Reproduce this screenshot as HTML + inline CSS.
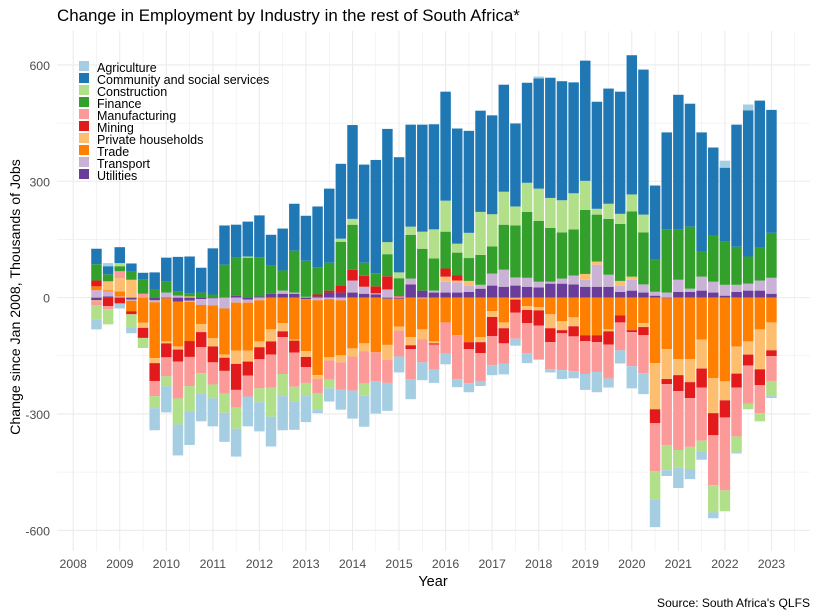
<!DOCTYPE html>
<html>
<head>
<meta charset="utf-8">
<title>Change in Employment by Industry</title>
<style>
html,body{margin:0;padding:0;background:#fff;width:818px;height:616px;overflow:hidden}
svg{display:block}
text{font-family:"Liberation Sans",Arial,sans-serif}
</style>
</head>
<body>
<svg id="chart" width="818" height="616" viewBox="0 0 818 616" xmlns="http://www.w3.org/2000/svg"></svg>
<script>
const quarters = [2008.5,2008.75,2009,2009.25,2009.5,2009.75,2010,2010.25,2010.5,2010.75,2011,2011.25,2011.5,2011.75,2012,2012.25,2012.5,2012.75,2013,2013.25,2013.5,2013.75,2014,2014.25,2014.5,2014.75,2015,2015.25,2015.5,2015.75,2016,2016.25,2016.5,2016.75,2017,2017.25,2017.5,2017.75,2018,2018.25,2018.5,2018.75,2019,2019.25,2019.5,2019.75,2020,2020.25,2020.5,2020.75,2021,2021.25,2021.5,2021.75,2022,2022.25,2022.5,2022.75,2023];
const seriesNames = ["Agriculture","Community and social services","Construction","Finance","Manufacturing","Mining","Private households","Trade","Transport","Utilities"];
const agriculture = [-26,8,-13,-15,0,-57,-67,-80,-85,-72,-72,-75,-72,-77,-75,-77,-88,-72,-67,-8,-34,-52,-72,-80,-83,-72,-41,-52,-46,-34,-28,-21,-23,-13,-26,-28,-18,-26,5,-8,-23,-18,-41,-52,-23,-34,-57,-54,-72,-15,-52,-26,-20,-15,18,-3,15,0,-5];
const community = [40,21,41,21,18,44,62,90,95,64,119,101,85,90,108,80,108,121,116,157,191,193,242,253,292,292,297,263,276,271,281,297,263,261,255,276,214,258,284,310,307,286,310,276,297,315,359,374,191,250,348,317,307,227,191,315,377,379,317];
const construction = [-36,-39,8,-34,-26,-31,-26,-67,-67,-52,-36,-49,-54,3,-36,-75,-57,-39,-34,-44,-23,8,15,-31,0,31,15,21,44,75,80,23,65,111,83,85,49,75,83,77,83,93,75,15,39,26,44,46,-72,-65,-46,-57,-29,-70,-54,-41,-15,-21,-39];
const finance = [42,18,13,21,36,21,28,10,8,13,8,85,98,103,101,72,52,108,93,70,72,113,116,34,34,57,44,113,108,83,95,59,59,77,70,116,134,170,157,139,119,119,165,121,144,147,168,134,83,163,129,160,65,119,111,98,70,85,116];
const manufacturing = [-10,-8,18,0,10,-39,-49,-95,-75,-67,-57,-59,-46,-54,-75,-85,-95,-88,-41,-36,-49,-70,-88,-83,-75,-59,-67,-77,-59,-65,-80,-113,-88,-72,-75,-52,-67,-77,-88,-70,-95,-90,-85,-77,-88,-72,-88,-98,-124,-157,-152,-126,-137,-129,-188,-126,-98,-72,-64];
const mining = [15,-22,-15,-8,-26,-46,-36,-31,-41,-39,-41,-34,-67,-36,-31,-34,-15,-31,-26,5,5,18,28,28,18,34,3,-10,0,-3,21,13,-18,-28,-49,-39,-34,-34,-39,-36,-8,-26,-15,-18,-34,-18,-5,-21,-36,-13,-41,-41,-49,-57,-44,-36,-28,-41,-15];
const privateHouseholds = [-3,23,34,46,-13,-13,-5,-8,3,-21,-21,-8,-34,-28,-15,-31,-21,-3,-15,-10,-8,-18,-21,-21,0,-39,-10,-21,-26,-5,13,5,13,-13,-15,-15,-3,-10,-8,-36,-23,-23,15,8,-5,13,8,-10,-119,-77,-41,-59,-75,-90,-49,-70,-34,-103,-72];
const trade = [10,3,13,-27,-65,-144,-111,-116,-101,-49,-85,-119,-124,-124,-106,-82,-66,-108,-134,-193,-150,-142,-131,-118,-141,-119,-72,-102,-80,-113,-64,-97,-115,-102,-35,-64,-2,-22,-25,-43,-61,-51,-97,-97,-82,-46,-84,-66,-169,-131,-159,-159,-108,-208,-216,-126,-113,-82,-64];
const transport = [19,13,3,-3,0,-5,13,5,-3,-15,-18,-28,-13,-8,-7,0,8,3,2,-7,-4,-7,31,18,3,21,3,15,-2,5,28,26,15,10,31,44,21,23,15,5,13,23,18,57,31,15,28,21,10,13,31,8,36,28,28,18,18,26,41];
const utilities = [-7,3,0,-5,0,-7,-2,-10,-8,-4,-2,0,5,-5,3,10,10,10,-4,3,13,13,13,10,8,-3,-3,34,18,13,13,13,15,23,31,28,31,28,26,36,36,34,28,28,28,15,18,13,5,-2,15,15,18,13,5,15,18,18,10];
const yTickValues = [-600,-300,0,300,600];
const yMinorValues = [-450,-150,150,450];
const xTickYears = [2008,2009,2010,2011,2012,2013,2014,2015,2016,2017,2018,2019,2020,2021,2022,2023];
const seriesColors = ["#A6CEE3","#1F78B4","#B2DF8A","#33A02C","#FB9A99","#E31A1C","#FDBF6F","#FF7F00","#CAB2D6","#6A3D9A"];
const seriesValues = [agriculture,community,construction,finance,manufacturing,mining,privateHouseholds,trade,transport,utilities];

const svgNS = "http://www.w3.org/2000/svg";
const svg = document.getElementById("chart");
const panel = {left:57, right:810, top:31, bottom:551};
function xScale(year){ return 73.2 + (year - 2008) * 46.55; }
function yScale(value){ return 297.6 - value * 0.3878; }
const barWidth = xScale(0.225) - xScale(0);

function make(tag, attrs, parent){
  const el = document.createElementNS(svgNS, tag);
  for (const k in attrs) el.setAttribute(k, attrs[k]);
  (parent || svg).appendChild(el);
  return el;
}
function slug(s){ return s.toLowerCase().replace(/[^a-z0-9]+/g, "-"); }

// gridlines
yMinorValues.forEach(function(v){
  const l = make("line",{x1:panel.left,x2:panel.right,y1:yScale(v),y2:yScale(v),stroke:"#EBEBEB","stroke-width":0.55});
  
  
});
xTickYears.forEach(function(y){
  const l = make("line",{x1:xScale(y+0.5),x2:xScale(y+0.5),y1:panel.top,y2:panel.bottom,stroke:"#EBEBEB","stroke-width":0.55});
  
  
});
yTickValues.forEach(function(v){
  const l = make("line",{x1:panel.left,x2:panel.right,y1:yScale(v),y2:yScale(v),stroke:"#EBEBEB","stroke-width":1.07});
  
  
});
xTickYears.forEach(function(y){
  const l = make("line",{x1:xScale(y),x2:xScale(y),y1:panel.top,y2:panel.bottom,stroke:"#EBEBEB","stroke-width":1.07});
  
  
});

// stacked bars (Utilities nearest zero, Agriculture farthest)
quarters.forEach(function(q, i){
  let pos = 0, neg = 0;
  for (let s = seriesValues.length - 1; s >= 0; s--){
    const v = seriesValues[s][i];
    if (!v) continue;
    const start = v > 0 ? pos : neg;
    const end = start + v;
    if (v > 0) pos = end; else neg = end;
    const r = make("rect",{
      x: xScale(q) - barWidth / 2,
      y: Math.min(yScale(start), yScale(end)),
      width: barWidth,
      height: Math.abs(yScale(end) - yScale(start)),
      fill: seriesColors[s]
    });
    
    
  }
});

// y tick labels
yTickValues.forEach(function(v){
  const t = make("text",{x:50,y:yScale(v)+5,"text-anchor":"end","font-size":12.3,fill:"#4D4D4D"});
  t.textContent = String(v);
  
  
});
// x tick labels
xTickYears.forEach(function(y){
  const t = make("text",{x:xScale(y),y:568,"text-anchor":"middle","font-size":12.3,fill:"#4D4D4D"});
  t.textContent = String(y);
  
  
});

// legend
seriesNames.forEach(function(name, i){
  const k = make("rect",{x:79,y:61+i*12,width:10,height:10,fill:seriesColors[i]});
  
  
  const t = make("text",{x:97,y:72+i*12,"font-size":12.5,fill:"#000"});
  t.textContent = name;
  
  
});

// titles
const title = make("text",{x:57,y:21,"font-size":16.9,fill:"#000"});
title.textContent = "Change in Employment by Industry in the rest of South Africa*";



const yTitle = make("text",{transform:"translate(20,297) rotate(-90)","text-anchor":"middle","font-size":14.15,fill:"#000"});
yTitle.textContent = "Change since Jan 2008, Thousands of Jobs";



const xTitle = make("text",{x:433,y:586,"text-anchor":"middle","font-size":14.5,fill:"#000"});
xTitle.textContent = "Year";



const source = make("text",{x:810,y:607,"text-anchor":"end","font-size":12.05,fill:"#000"});
source.textContent = "Source: South Africa's QLFS";


</script>
</body>
</html>
